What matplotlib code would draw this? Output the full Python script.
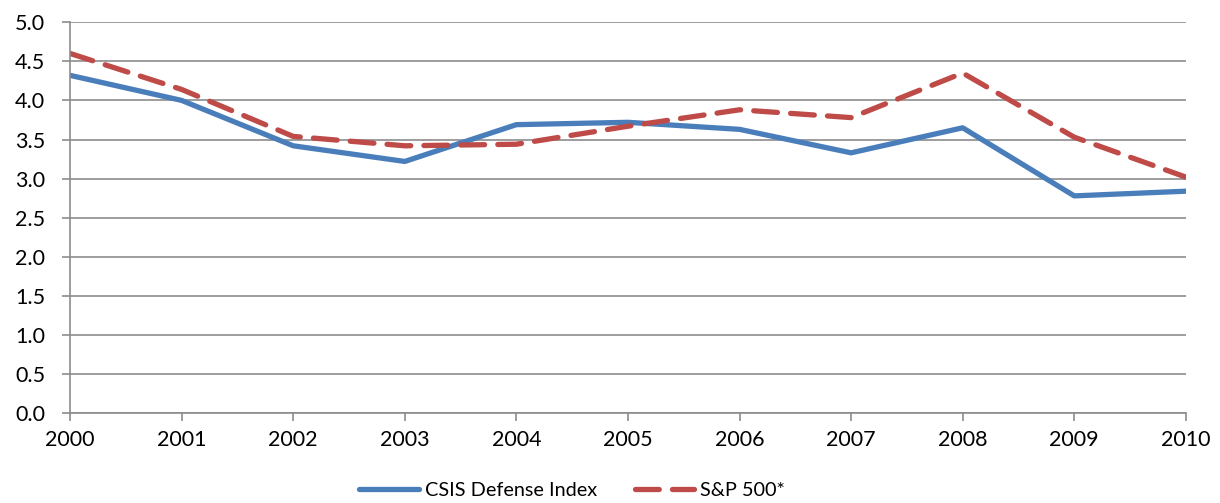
import matplotlib.pyplot as plt

plt.rcParams['font.family'] = ['Lato', 'DejaVu Sans']

# Dati
years = [2000, 2001, 2002, 2003, 2004, 2005, 2006, 2007, 2008, 2009, 2010]
csis = [4.32, 4.00, 3.42, 3.22, 3.69, 3.72, 3.63, 3.33, 3.65, 2.78, 2.84]
sp500 = [4.60, 4.14, 3.54, 3.42, 3.44, 3.67, 3.88, 3.78, 4.35, 3.53, 3.02]
yticks = [0.0, 0.5, 1.0, 1.5, 2.0, 2.5, 3.0, 3.5, 4.0, 4.5, 5.0]

fig = plt.figure(figsize=(12.2, 5.03), dpi=100)
ax = fig.add_axes([0.0574, 0.178, 0.9146, 0.778])

ax.plot(years, csis, color='#4A7EBB', linewidth=3.8, label='CSIS Defense Index',
        solid_capstyle='round')
ax.plot(years, sp500, color='#BE4B48', linewidth=3.8, label='S&P 500*',
        linestyle=(0, (4.5, 2.5)), dash_capstyle='round')

ax.set_xlim(2000, 2010)
ax.set_ylim(0, 5)
ax.set_xticks(years)
ax.set_yticks(yticks)
ax.set_yticklabels([f'{v:.1f}' for v in yticks])
ax.grid(axis='y', color='#8C8C8C', linewidth=1.2)
ax.set_axisbelow(True)

for s in ['top', 'right']:
    ax.spines[s].set_visible(False)
for s in ['left', 'bottom']:
    ax.spines[s].set_color('#8C8C8C')
    ax.spines[s].set_linewidth(1.2)
ax.tick_params(axis='both', colors='#8C8C8C', labelcolor='black', labelsize=15.5,
               length=6, width=1.2)
ax.tick_params(axis='x', pad=6)
ax.tick_params(axis='y', pad=12)

ax.legend(loc='center', bbox_to_anchor=(0.45, -0.198), ncol=2, frameon=False,
          fontsize=14.3, handlelength=3.0, columnspacing=1.9, handletextpad=0.3)

fig.savefig('out.png', dpi=100)
